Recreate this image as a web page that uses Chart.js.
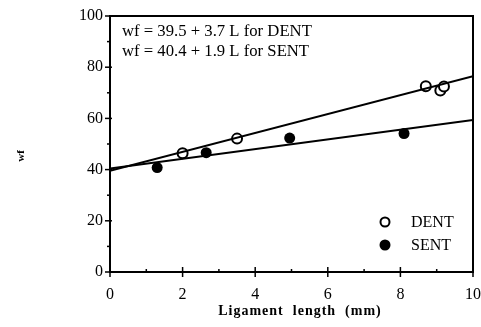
<!DOCTYPE html>
<html>
<head>
<meta charset="utf-8">
<script src="https://cdn.jsdelivr.net/npm/chart.js@4"></script>
<style>
  html, body { margin: 0; padding: 0; background: #fff; }
  #wrap { width: 481px; height: 327px; }
</style>
</head>
<body>
<div id="wrap"><canvas id="wfChart" width="481" height="327"></canvas></div>
<script>
// ligament length (mm) vs wf
const dentL = [2.0, 3.5, 8.7, 9.1, 9.2];
const dentWf = [46.4, 52.1, 72.6, 70.9, 72.5];
const sentL = [1.3, 2.65, 4.95, 8.1];
const sentWf = [40.8, 46.6, 52.3, 54.1];

// fitted lines, end points at L = 0 and L = 10
const fitL = [0, 10];
const dentFit = [39.5, 76.5];
const sentFit = [40.4, 59.4];

const fitText = ['wf = 39.5 + 3.7 L for DENT', 'wf = 40.4 + 1.9 L for SENT'];
const xTicks = [0, 2, 4, 6, 8, 10];
const yTicks = [0, 20, 40, 60, 80, 100];

const pts = (xs, ys) => xs.map((x, i) => ({ x: x, y: ys[i] }));
const serif = '"Liberation Serif", "DejaVu Serif", serif';

// frame, tick marks, titles, equations and legend
const decor = {
    id: 'decor',
    afterDraw(chart) {
        const ctx = chart.ctx;
        const a = chart.chartArea;
        const xs = chart.scales.x;
        const ys = chart.scales.y;
        ctx.save();
        ctx.strokeStyle = '#000';
        ctx.lineWidth = 2;
        ctx.strokeRect(a.left, a.top, a.right - a.left, a.bottom - a.top);

        ctx.lineWidth = 1.5;
        for (let v = 0; v <= 10; v++) {
            const px = xs.getPixelForValue(v);
            const major = v % 2 === 0;
            ctx.beginPath();
            ctx.moveTo(px, a.bottom + (major ? 5 : 0));
            ctx.lineTo(px, a.bottom - (major ? 5 : 3));
            ctx.stroke();
        }
        for (let v = 0; v <= 100; v += 10) {
            const py = ys.getPixelForValue(v);
            const major = v % 20 === 0;
            ctx.beginPath();
            ctx.moveTo(a.left - (major ? 5 : 3), py);
            ctx.lineTo(a.left + (major ? 2 : 0), py);
            ctx.stroke();
        }

        ctx.fillStyle = '#000';
        ctx.textBaseline = 'middle';
        ctx.textAlign = 'left';
        ctx.font = '16.7px ' + serif;
        ctx.fillText(fitText[0], a.left + 12, 32);
        ctx.fillText(fitText[1], a.left + 12, 52);

        // legend
        ctx.font = '16px ' + serif;
        ctx.lineWidth = 2;
        ctx.beginPath();
        ctx.arc(385, 222, 4.5, 0, Math.PI * 2);
        ctx.stroke();
        ctx.fillText('DENT', 411, 223);
        ctx.beginPath();
        ctx.arc(385, 245, 5.5, 0, Math.PI * 2);
        ctx.fill();
        ctx.fillText('SENT', 411, 246);

        // axis titles
        ctx.textAlign = 'center';
        ctx.font = 'bold 14px ' + serif;
        ctx.letterSpacing = '1px';
        ctx.fillText('Ligament  length  (mm)', 300, 311);
        ctx.letterSpacing = '0px';
        ctx.translate(21, 156);
        ctx.rotate(-Math.PI / 2);
        ctx.font = 'bold 11px ' + serif;
        ctx.fillText('wf', 0, 0);
        ctx.restore();
    }
};

new Chart(document.getElementById('wfChart'), {
    type: 'scatter',
    data: {
        datasets: [
            {
                label: 'DENT fit', type: 'line', data: pts(fitL, dentFit),
                borderColor: '#000', borderWidth: 2, pointRadius: 0, fill: false
            },
            {
                label: 'SENT fit', type: 'line', data: pts(fitL, sentFit),
                borderColor: '#000', borderWidth: 2, pointRadius: 0, fill: false
            },
            {
                label: 'DENT', data: pts(dentL, dentWf),
                pointRadius: 5, pointBorderWidth: 2,
                pointBackgroundColor: '#fff', pointBorderColor: '#000'
            },
            {
                label: 'SENT', data: pts(sentL, sentWf),
                pointRadius: 5.5, pointBorderWidth: 0,
                pointBackgroundColor: '#000', pointBorderColor: '#000'
            }
        ]
    },
    options: {
        responsive: false,
        animation: false,
        layout: { padding: { left: 0, right: 8, top: 16, bottom: 0 } },
        plugins: { legend: { display: false }, tooltip: { enabled: false } },
        scales: {
            x: {
                type: 'linear', min: 0, max: 10,
                afterBuildTicks: s => { s.ticks = xTicks.map(v => ({ value: v })); },
                afterFit: s => { s.height = 55; s.paddingLeft = 0; s.paddingRight = 0; },
                grid: { display: false, drawTicks: false },
                border: { display: false },
                ticks: { color: '#000', padding: 13, font: { family: serif, size: 16 } }
            },
            y: {
                type: 'linear', min: 0, max: 100,
                afterBuildTicks: s => { s.ticks = yTicks.map(v => ({ value: v })); },
                afterFit: s => { s.width = 110; s.paddingTop = 0; s.paddingBottom = 0; },
                grid: { display: false, drawTicks: false },
                border: { display: false },
                ticks: { color: '#000', padding: 7, font: { family: serif, size: 16 } }
            }
        }
    },
    plugins: [decor]
});
</script>
</body>
</html>
